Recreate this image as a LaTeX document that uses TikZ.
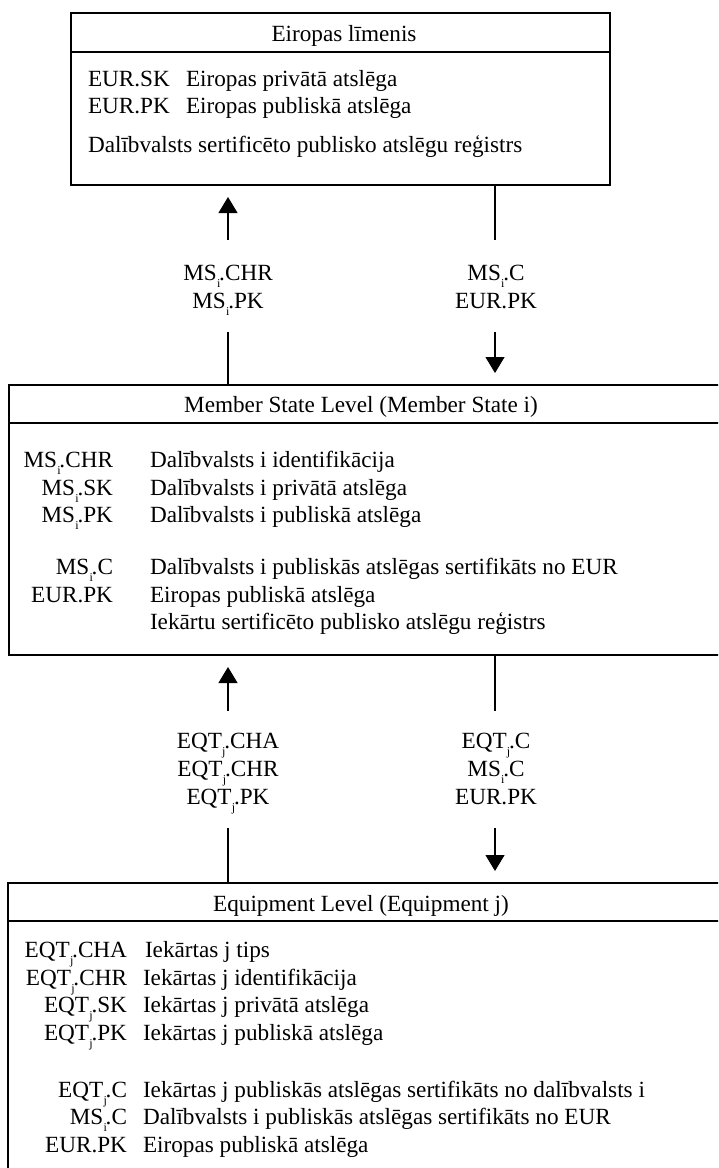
\documentclass[tikz,border=0pt]{standalone}
\usepackage{fontspec}
\setmainfont{Liberation Serif}
\usetikzlibrary{arrows.meta}

% small lowered index after an identifier, e.g. MS_i
\newcommand{\sbx}[1]{\kern0.3pt\raisebox{-0.72ex}{\fontsize{12}{12}\selectfont #1}\kern-1.2pt}

\begin{document}
\begin{tikzpicture}[x=1pt,y=-1pt,
  every node/.style={inner sep=0pt, outer sep=0pt},
  txt/.style={font=\fontsize{23.2}{27}\selectfont},
  levelbox/.style={draw, line width=1.8pt},
  rule/.style={line width=1.5pt},
  link/.style={line width=1.2pt},
  arrowhd/.style={link, -{Triangle[length=16pt,width=19pt]}},
]
\useasboundingbox (0,0) rectangle (718,1168);
\clip (0,0) rectangle (718,1168);

% ---------- level boxes ----------
\node[levelbox, minimum width=539pt, minimum height=172pt] (eur) at (340.5,99) {};
\node[levelbox, minimum width=731pt, minimum height=270pt] (mem) at (374.5,520) {};
\node[levelbox, minimum width=732pt, minimum height=320pt] (eqt) at (374,1043) {};

\coordinate (eurdiv) at (0,52);
\coordinate (memdiv) at (0,423);
\coordinate (eqtdiv) at (0,921);
\draw[rule] (eur.west |- eurdiv) -- (eur.east |- eurdiv);
\draw[rule] (mem.west |- memdiv) -- (mem.east |- memdiv);
\draw[rule] (eqt.west |- eqtdiv) -- (eqt.east |- eqtdiv);

% ---------- titles ----------
\node[txt, anchor=base] (eurt) at (344,41) {Eiropas līmenis};
\node[txt, anchor=base] (memt) at (361,412) {Member State Level (Member State i)};
\node[txt, anchor=base] (eqtt) at (361,911) {Equipment Level (Equipment j)};

% ---------- European level contents ----------
\node[txt, anchor=base west] (ek1) at (88,86) {EUR.SK};
\node[txt, anchor=base west] (ed1) at (186,86) {Eiropas privātā atslēga};
\node[txt, anchor=base west] (ek2) at (88,113) {EUR.PK};
\node[txt, anchor=base west] (ed2) at (186,113) {Eiropas publiskā atslēga};
\node[txt, anchor=base west] (ed3) at (88,152) {Dalībvalsts sertificēto publisko atslēgu reģistrs};

% ---------- Member State level contents ----------
\foreach \yy/\kk/\dd [count=\n] in {
  467/{MS\sbx{i}.CHR}/{Dalībvalsts i identifikācija},
  495/{MS\sbx{i}.SK}/{Dalībvalsts i privātā atslēga},
  522/{MS\sbx{i}.PK}/{Dalībvalsts i publiskā atslēga},
  574/{MS\sbx{i}.C}/{Dalībvalsts i publiskās atslēgas sertifikāts no EUR},
  602/{EUR.PK}/{Eiropas publiskā atslēga},
  629/{}/{Iekārtu sertificēto publisko atslēgu reģistrs}}
{
  \node[txt, anchor=base east] (mk\n) at (113,\yy) {\kk};
  \node[txt, anchor=base west] (md\n) at (150,\yy) {\dd};
}

% ---------- Equipment level contents ----------
\foreach \yy/\kk/\dd [count=\n] in {
  957/{EQT\sbx{j}.CHA}/{\kern2pt Iekārtas j tips},
  985/{EQT\sbx{j}.CHR}/{Iekārtas j identifikācija},
  1012/{EQT\sbx{j}.SK}/{Iekārtas j privātā atslēga},
  1040/{EQT\sbx{j}.PK}/{Iekārtas j publiskā atslēga},
  1097/{EQT\sbx{j}.C}/{Iekārtas j publiskās atslēgas sertifikāts no dalībvalsts i},
  1124/{MS\sbx{i}.C}/{Dalībvalsts i publiskās atslēgas sertifikāts no EUR},
  1152/{EUR.PK}/{Eiropas publiskā atslēga}}
{
  \node[txt, anchor=base east] (qk\n) at (127,\yy) {\kk};
  \node[txt, anchor=base west] (qd\n) at (143,\yy) {\dd};
}

% ---------- exchanges between European and Member State level ----------
\coordinate (up1a) at (228,240);
\coordinate (up1b) at (228,332);
\coordinate (dn1a) at (495,240);
\coordinate (dn1b) at (495,332);
\draw[arrowhd, shorten >=12pt] (up1a) -- (up1a |- eur.south);
\draw[link] (mem.north -| up1b) -- (up1b);
\draw[link] (eur.south -| dn1a) -- (dn1a);
\draw[arrowhd, shorten >=12pt] (dn1b) -- (dn1b |- mem.north);

\node[txt, anchor=base] (u1a) at (228,280) {MS\sbx{i}.CHR};
\node[txt, anchor=base] (u1b) at (228,308) {MS\sbx{i}.PK};
\node[txt, anchor=base] (d1a) at (496,280) {MS\sbx{i}.C};
\node[txt, anchor=base] (d1b) at (496,308) {EUR.PK};

% ---------- exchanges between Member State and Equipment level ----------
\coordinate (up2a) at (228,711);
\coordinate (up2b) at (228,828);
\coordinate (dn2a) at (495,711);
\coordinate (dn2b) at (495,828);
\draw[arrowhd, shorten >=12pt] (up2a) -- (up2a |- mem.south);
\draw[link] (eqt.north -| up2b) -- (up2b);
\draw[link] (mem.south -| dn2a) -- (dn2a);
\draw[arrowhd, shorten >=12pt] (dn2b) -- (dn2b |- eqt.north);

\node[txt, anchor=base] (u2a) at (228,748) {EQT\sbx{j}.CHA};
\node[txt, anchor=base] (u2b) at (228,776) {EQT\sbx{j}.CHR};
\node[txt, anchor=base] (u2c) at (228,804) {EQT\sbx{j}.PK};
\node[txt, anchor=base] (d2a) at (496,748) {EQT\sbx{j}.C};
\node[txt, anchor=base] (d2b) at (496,776) {MS\sbx{i}.C};
\node[txt, anchor=base] (d2c) at (496,804) {EUR.PK};
\end{tikzpicture}
\end{document}
